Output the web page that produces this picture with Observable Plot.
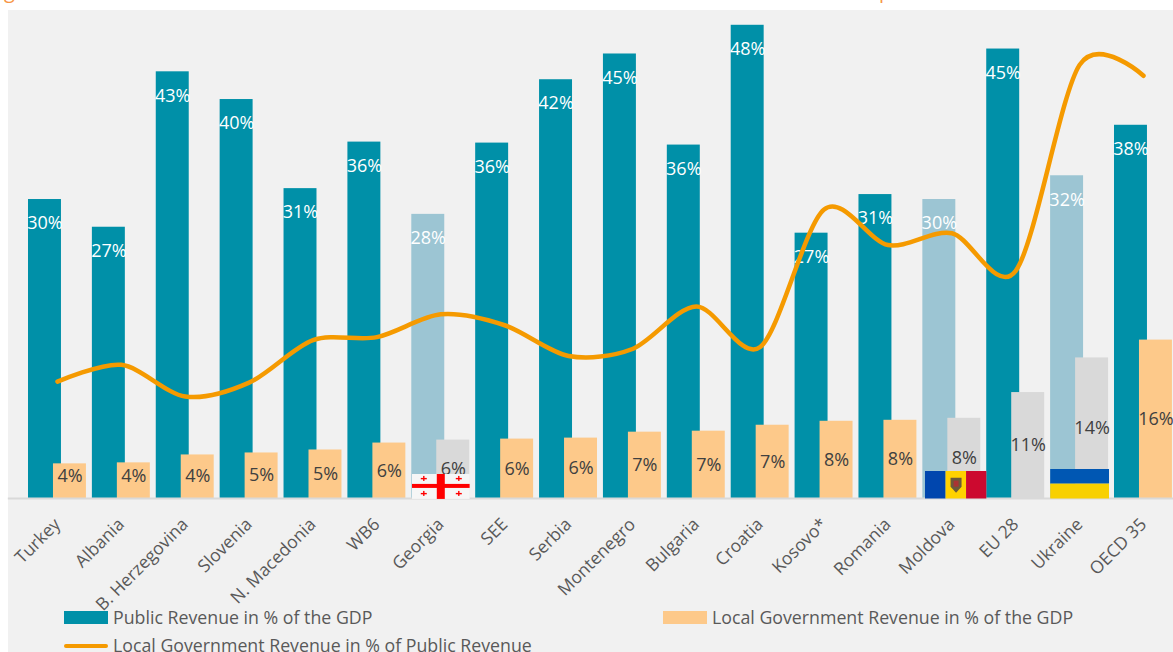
<!DOCTYPE html>
<html>
<head>
<meta charset="utf-8">
<script src="https://cdn.jsdelivr.net/npm/d3@7"></script>
<script src="https://cdn.jsdelivr.net/npm/@observablehq/plot@0.6"></script>
<style>
html,body{margin:0;padding:0;background:#fff;overflow:hidden}
#page{position:relative;width:1173px;height:652px;overflow:hidden;font-family:"Open Sans",sans-serif}
#panel{position:absolute;left:8px;top:10px;right:0;bottom:0;background:#f1f1f1}
#chart{position:absolute;left:0;top:0;width:1173px}
#chart svg{display:block;background:transparent;overflow:visible}
#cut span{position:absolute;top:-21px;color:#f79646;font-size:20px;line-height:24px;font-family:"Open Sans",sans-serif}
#legend{position:absolute;left:0;top:608px;width:1173px;height:44px;color:#595959;font-size:17.75px;line-height:20px}
.it{position:absolute;white-space:nowrap}
.sw{position:absolute}
</style>
</head>
<body>
<div id="page">
  <div id="cut"><span style="left:4px">g</span><span style="left:879px">p</span></div>
  <div id="panel"></div>
  <div id="chart"></div>
  <div id="legend"></div>
</div>
<script>
const countries = ["Turkey","Albania","B. Herzegovina","Slovenia","N. Macedonia","WB6","Georgia","SEE","Serbia","Montenegro","Bulgaria","Croatia","Kosovo*","Romania","Moldova","EU 28","Ukraine","OECD 35"];
const publicRevenue = [30.2,27.4,43.1,40.3,31.3,36.0,28.7,35.9,42.3,44.9,35.7,47.8,26.8,30.7,30.2,45.4,32.6,37.7];
const localRevenue = [3.5,3.6,4.4,4.6,4.9,5.6,5.9,6.0,6.1,6.7,6.8,7.4,7.8,7.9,8.1,10.7,14.2,16.0];
const localShare = [11.8,13.5,10.3,11.7,16.0,16.3,18.6,17.5,14.4,15.1,19.4,15.3,29.2,25.6,26.8,23.0,43.8,42.7];
const publicLabels = ["30%","27%","43%","40%","31%","36%","28%","36%","42%","45%","36%","48%","27%","31%","30%","45%","32%","38%"];
const localLabels = ["4%","4%","4%","5%","5%","6%","6%","6%","6%","7%","7%","7%","8%","8%","8%","11%","14%","16%"];
const mutedCountries = ["Georgia","Moldova","Ukraine"];
const greyLocalCountries = ["Georgia","Moldova","EU 28","Ukraine"];

const teal="#0090a8", paleTeal="#9cc5d3", orange="#fdc98a", grey="#d9d9d9", lineColor="#f59a00";
const rows = countries.map((c,i)=>({c,i,pub:publicRevenue[i],loc:localRevenue[i],share:localShare[i],pl:publicLabels[i],ll:localLabels[i]}));

const svgUri = s => "data:image/svg+xml;utf8,"+encodeURIComponent(s);
const georgia = `<svg xmlns="http://www.w3.org/2000/svg" viewBox="0 0 58 25" preserveAspectRatio="none"><rect width="58" height="25" fill="#f6f6f6"/><rect x="25" width="8" height="25" fill="#f00"/><rect y="10" width="58" height="4" fill="#f00"/><g fill="#f00"><rect x="9" y="4" width="6" height="1.4"/><rect x="11.3" y="2" width="1.4" height="5"/><rect x="44" y="4" width="6" height="1.4"/><rect x="46.3" y="2" width="1.4" height="5"/><rect x="9" y="19" width="6" height="1.4"/><rect x="11.3" y="17" width="1.4" height="5"/><rect x="44" y="19" width="6" height="1.4"/><rect x="46.3" y="17" width="1.4" height="5"/></g></svg>`;
const moldova = `<svg xmlns="http://www.w3.org/2000/svg" viewBox="0 0 62 28" preserveAspectRatio="none"><rect width="21" height="28" fill="#0046ae"/><rect x="21" width="20.5" height="28" fill="#ffd200"/><rect x="41.5" width="20.5" height="28" fill="#cc092f"/><path d="M26 7h11v9l-5.500 6-5.500-6z" fill="#6b5a3a"/><rect x="29" y="10" width="5" height="6" fill="#a33"/></svg>`;
const ukraine = `<svg xmlns="http://www.w3.org/2000/svg" viewBox="0 0 59 30" preserveAspectRatio="none"><rect width="59" height="15" fill="#0057b3"/><rect y="15" width="59" height="15" fill="#f8d000"/></svg>`;
const flags = [
  {c:"Georgia",i:countries.indexOf("Georgia"),src:svgUri(georgia),w:58,h:25,yc:1.22,off:0},
  {c:"Moldova",i:countries.indexOf("Moldova"),src:svgUri(moldova),w:62,h:28,yc:1.4,off:0.058},
  {c:"Ukraine",i:countries.indexOf("Ukraine"),src:svgUri(ukraine),w:59,h:30,yc:1.5,off:0}
];

const chart = Plot.plot({
  width:1173, height:608, margin:0,
  style:{background:"transparent",fontFamily:"'Open Sans',sans-serif"},
  x:{type:"linear",domain:[0,17],range:[57,1143],axis:null},
  y:{domain:[0,50],range:[498,3],axis:null},
  marks:[
    Plot.rectY(rows,{x1:d=>d.i-0.454,x2:d=>d.i+0.062,y1:0,y2:"pub",fill:d=>mutedCountries.includes(d.c)?paleTeal:teal}),
    Plot.rectY(rows,{x1:d=>d.i-0.063,x2:d=>d.i+0.453,y1:0,y2:"loc",fill:d=>greyLocalCountries.includes(d.c)?grey:orange}),
    Plot.ruleY([0],{stroke:"#d9d9d9",strokeWidth:2,x1:-0.77,x2:17.5}),
    Plot.text(rows,{x:d=>d.i-0.196,y:"pub",text:"pl",dy:24,fill:"#fff",fontSize:18}),
    Plot.text(rows,{x:d=>d.i+0.195,y:d=>Math.max(d.loc/2,2.2),text:"ll",fill:"#404040",fontSize:18}),
    Plot.image(flags,{x:d=>d.i+d.off,y:"yc",width:"w",height:"h",src:"src",preserveAspectRatio:"none"}),
    Plot.line(rows,{x:"i",y:"share",stroke:lineColor,strokeWidth:4.5,curve:"cardinal",tension:0.1,strokeLinecap:"round"}),
    Plot.text(rows,{x:"i",y:()=>0,text:"c",rotate:-45,textAnchor:"end",fontSize:17.5,fill:"#595959",dx:0,dy:23})
  ]
});
document.getElementById("chart").append(chart);

const legendItems = [
  {name:"Public Revenue in % of the GDP",color:teal,kind:"bar",x:64,y:3},
  {name:"Local Government Revenue in % of the GDP",color:orange,kind:"bar",x:663,y:3},
  {name:"Local Government Revenue in % of Public Revenue",color:lineColor,kind:"line",x:64,y:37}
];
const legend=document.getElementById("legend");
for(const it of legendItems){
  const s=document.createElement("div");s.className="sw";
  s.style.cssText=`left:${it.x}px;width:44px;background:${it.color};`+(it.kind==="bar"?`top:${it.y}px;height:13px;`:`top:${it.y-1}px;height:4px;border-radius:2px;`);
  const t=document.createElement("div");t.className="it";t.textContent=it.name;
  t.style.cssText=`left:${it.x+49}px;top:${it.kind==="bar"?-1:it.y-10}px;`;
  legend.append(s,t);
}
</script>
</body>
</html>
